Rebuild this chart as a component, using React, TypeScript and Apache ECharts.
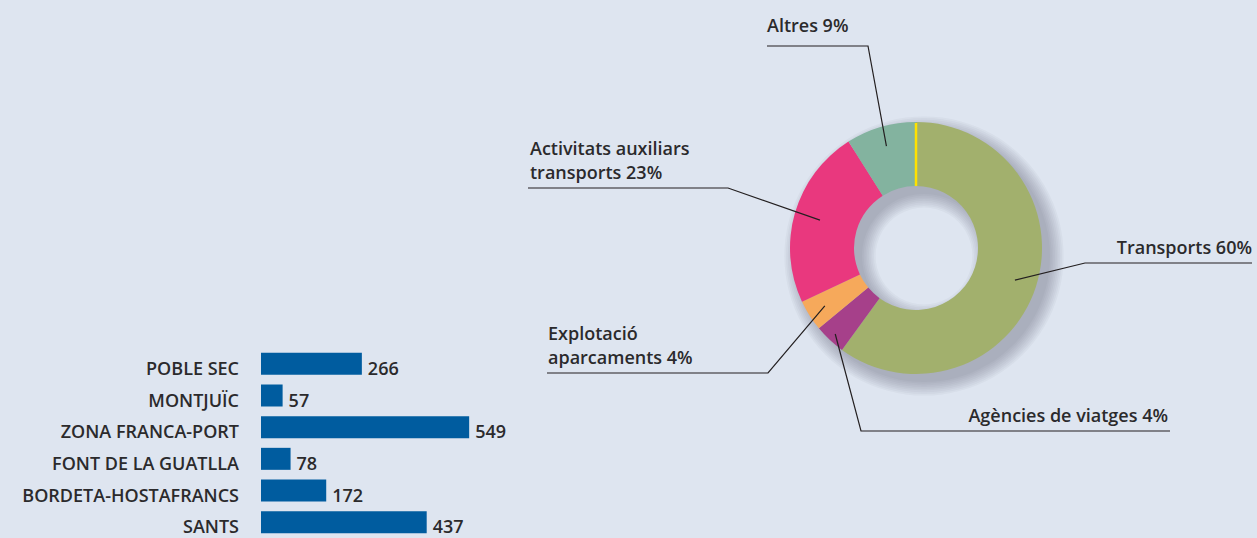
import React, { useEffect, useRef } from "react";
import * as echarts from "echarts";

// ---- Data ----
const districts = ["POBLE SEC", "MONTJUÏC", "ZONA FRANCA-PORT", "FONT DE LA GUATLLA", "BORDETA-HOSTAFRANCS", "SANTS"];
const districtValues = [266, 57, 549, 78, 172, 437];

const sectorNames = ["Transports", "Agències de viatges", "Explotació\naparcaments", "Activitats auxiliars\ntransports", "Altres"];
const sectorShares = [60, 4, 4, 23, 9];
const sectorColors = ["#A2B06D", "#A6408A", "#F6A95B", "#E9387E", "#83B39F"];

// ---- Layout ----
const W = 1257;
const H = 538;
const BG = "#DEE5F0";
const TEXT = "#2B2A2C";
const FONT = "'Open Sans', 'Noto Sans', sans-serif";
const PIE_C = [916, 248];
const PIE_R = [62, 126];
const SHADOW_LAYERS = 9;
const SHADOW_STEP = 1.7;
const SHADOW_OFFSET = 8;
// per slice label placement: leader radius, elbow, end of horizontal, text anchor
const labelPlace = [
  { r: 104, elbow: [1085, 263], end: 1252, tx: 1252, ty: 259, align: "right" },
  { r: 118, elbow: [861, 431], end: 1170, tx: 1168, ty: 427, align: "right" },
  { r: 108, elbow: [768, 373], end: 547, tx: 548, ty: 369, align: "left" },
  { r: 100, elbow: [728, 188], end: 528, tx: 530, ty: 184, align: "left" },
  { r: 106, elbow: [868, 46], end: 767, tx: 767, ty: 37, align: "left" },
];

function midAngle(i: number) {
  const total = sectorShares.reduce((a, b) => a + b, 0);
  let cum = 0;
  for (let k = 0; k < i; k++) cum += sectorShares[k];
  const mid = cum + sectorShares[i] / 2;
  return ((90 - (mid / total) * 360) * Math.PI) / 180;
}

export default function App() {
  const ref = useRef<HTMLDivElement>(null);
  useEffect(() => {
    if (!ref.current) return;
    const chart = echarts.init(ref.current, null, { renderer: "svg" });

    const shadowSeries = Array.from({ length: SHADOW_LAYERS }, (_, k) => ({
      type: "pie",
      center: [PIE_C[0] + SHADOW_OFFSET, PIE_C[1] + SHADOW_OFFSET],
      radius: [PIE_R[0] - k * SHADOW_STEP, PIE_R[1] + k * SHADOW_STEP],
      silent: true,
      z: 1,
      label: { show: false },
      labelLine: { show: false },
      data: [{ value: 1, name: "s" + k }],
      itemStyle: { color: "rgba(80,90,115,0.048)" },
    }));

    const pieData = sectorShares.map((v, i) => ({
      value: v,
      name: sectorNames[i],
      itemStyle: { color: sectorColors[i] },
    }));

    const option: any = {
      animation: false,
      backgroundColor: BG,
      grid: { left: 261, top: 348, width: 227.5, height: 192, containLabel: false },
      xAxis: { type: "value", min: 0, max: 600, show: false },
      yAxis: {
        type: "category",
        data: districts,
        inverse: true,
        axisLine: { show: false },
        axisTick: { show: false },
        axisLabel: {
          margin: 22,
          formatter: (v: string) => `{c|${v}}`,
          rich: {
            c: {
              color: TEXT,
              fontFamily: FONT,
              fontWeight: 600,
              fontSize: 18,
              padding: [8, 0, 0, 0],
            },
          },
        },
      },
      series: [
        {
          type: "bar",
          data: districtValues,
          barWidth: 22,
          itemStyle: { color: "#005C9F" },
          label: {
            show: true,
            position: "right",
            distance: 6,
            offset: [0, 4],
            color: TEXT,
            fontFamily: FONT,
            fontWeight: 600,
            fontSize: 18,
          },
        },
        ...shadowSeries,
        {
          type: "pie",
          center: PIE_C,
          radius: PIE_R,
          startAngle: 90,
          clockwise: true,
          silent: true,
          z: 2,
          label: { show: false },
          labelLine: { show: false },
          data: pieData,
        },
        {
          type: "pie",
          center: PIE_C,
          radius: PIE_R,
          startAngle: 90,
          clockwise: true,
          silent: true,
          z: 5,
          avoidLabelOverlap: false,
          data: pieData.map((d) => ({ ...d, itemStyle: { color: "rgba(0,0,0,0)" } })),
          label: {
            show: true,
            position: "outside",
            formatter: (p: any) => `${p.name} ${p.value}%`,
            color: TEXT,
            fontFamily: FONT,
            fontWeight: 600,
            fontSize: 18,
            lineHeight: 24,
          },
          labelLine: { show: true, lineStyle: { color: "#231F20", width: 1.2 } },
          labelLayout: (params: any) => {
            const i = params.dataIndex;
            const pl = labelPlace[i];
            const a = midAngle(i);
            const sx = PIE_C[0] + pl.r * Math.cos(a);
            const sy = PIE_C[1] - pl.r * Math.sin(a);
            return {
              x: pl.tx,
              y: pl.ty,
              align: pl.align,
              verticalAlign: "bottom",
              labelLinePoints: [
                [sx, sy],
                [pl.elbow[0], pl.elbow[1]],
                [pl.end, pl.elbow[1]],
              ],
            };
          },
        },
      ],
      graphic: [
        {
          type: "line",
          shape: {
            x1: PIE_C[0],
            y1: PIE_C[1] - PIE_R[1] + 1,
            x2: PIE_C[0],
            y2: PIE_C[1] - PIE_R[0],
          },
          style: { stroke: "#FFE200", lineWidth: 2.5 },
          z: 100,
        },
      ],
    };
    chart.setOption(option);
    return () => chart.dispose();
  }, []);
  return (
    <div
      ref={ref}
      style={{ position: "absolute", left: 0, top: 0, width: W, height: H, background: BG }}
    />
  );
}
